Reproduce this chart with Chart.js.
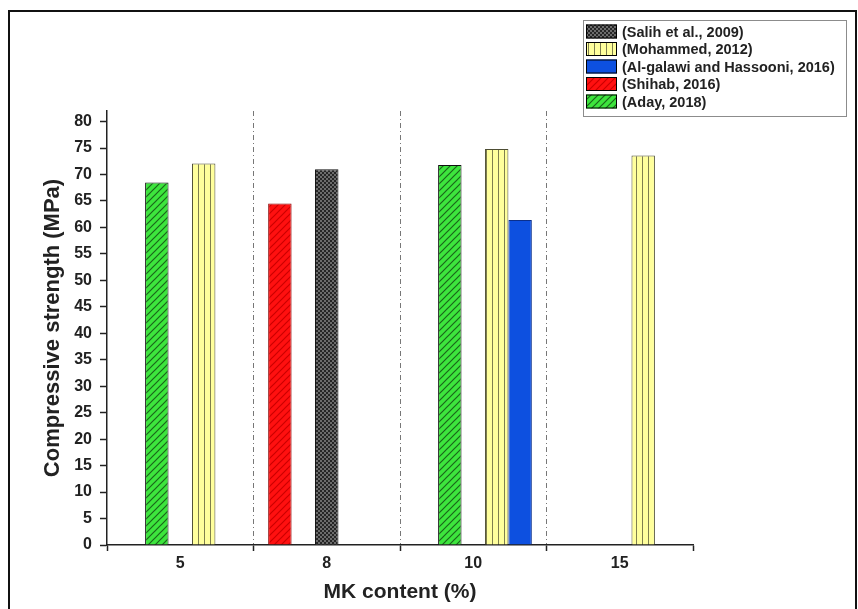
<!DOCTYPE html>
<html>
<head>
<meta charset="utf-8">
<script src="https://cdn.jsdelivr.net/npm/chart.js@4.4.1/dist/chart.umd.min.js"></script>
<style>
body { margin: 0; background: #fff; }
</style>
</head>
<body>
<canvas id="chart" width="858" height="609"></canvas>
<script>
// values (MPa), one array per study
const categories = ['5', '8', '10', '15'];
const shihab   = [null, 64.5, null, null];
const aday     = [68.5, null, 71.8, null];
const salih    = [null, 71.0, null, null];
const mohammed = [72.1, null, 74.8, 73.6];
const galawi   = [null, null, 61.4, null];
const seriesNames = ['(Shihab, 2016)', '(Aday, 2018)', '(Salih et al., 2009)', '(Mohammed, 2012)', '(Al-galawi and Hassooni, 2016)'];
const legendOrder = [2, 3, 4, 0, 1];
const yTicks = [0, 5, 10, 15, 20, 25, 30, 35, 40, 45, 50, 55, 60, 65, 70, 75, 80];

Chart.defaults.font.family = '"Liberation Sans", Arial, sans-serif';

function makePattern(w, h, draw){
    var cv = document.createElement('canvas');
    cv.width = w;
    cv.height = h;
    var g = cv.getContext('2d');
    draw(g, w, h);
    return g.createPattern(cv, 'repeat');
}

function hatch(bg, line, s){
    return makePattern(s, s, function(g){
        g.fillStyle = bg;
        g.fillRect(0, 0, s, s);
        g.strokeStyle = line;
        g.lineWidth = 1.2;
        g.beginPath();
        g.moveTo(0, s); g.lineTo(s, 0);
        g.moveTo(-1, 1); g.lineTo(1, -1);
        g.moveTo(s - 1, s + 1); g.lineTo(s + 1, s - 1);
        g.stroke();
    });
}

var greenFill = hatch('#3de53d', '#1a661a', 7);
var redFill = hatch('#ff1010', '#cc0000', 7);
var yellowFill = makePattern(6, 6, function(g, s){
    g.fillStyle = '#ffff9c';
    g.fillRect(0, 0, s, s);
    g.fillStyle = '#7e7e4e';
    g.fillRect(0, 0, 1, s);
});
var darkFill = makePattern(4, 4, function(g, s){
    g.fillStyle = '#262626';
    g.fillRect(0, 0, s, s);
    g.fillStyle = '#6c6c6c';
    g.fillRect(0, 0, 2, 2);
    g.fillRect(2, 2, 2, 2);
});
var blueFill = '#0d50e0';

var fills = [redFill, greenFill, darkFill, yellowFill, blueFill];
var borders = ['#8a0000', '#111', '#111', '#4d4d33', '#0a2f8c'];
var values = [shihab, aday, salih, mohammed, galawi];

var datasets = values.map(function(v, i){
    return {
        label: seriesNames[i],
        data: v,
        backgroundColor: fills[i],
        borderColor: borders[i],
        borderWidth: 1,
        borderSkipped: 'bottom'
    };
});

// white page with the thin frame of the original figure
const framePlugin = {
    id: 'frame',
    beforeDraw(chart){
        var ctx = chart.ctx;
        ctx.save();
        ctx.fillStyle = '#fff';
        ctx.fillRect(0, 0, chart.width, chart.height);
        ctx.strokeStyle = '#111';
        ctx.lineWidth = 2;
        ctx.beginPath();
        ctx.moveTo(9, chart.height);
        ctx.lineTo(9, 11);
        ctx.lineTo(856, 11);
        ctx.lineTo(856, chart.height);
        ctx.stroke();
        ctx.restore();
    }
};

// boxed legend at the top right, same order as the original
const boxLegend = {
    id: 'boxLegend',
    afterDraw(chart){
        var ctx = chart.ctx;
        var x0 = 583, y0 = 20, w = 263, h = 96;
        ctx.save();
        ctx.fillStyle = '#fff';
        ctx.fillRect(x0, y0, w, h);
        ctx.strokeStyle = '#8c8c8c';
        ctx.lineWidth = 1;
        ctx.strokeRect(x0 + 0.5, y0 + 0.5, w, h);
        ctx.font = 'bold 14.5px "Liberation Sans", Arial, sans-serif';
        ctx.textBaseline = 'middle';
        legendOrder.forEach(function(di, row){
            var ds = chart.data.datasets[di];
            var cy = 31.5 + row * 17.5;
            ctx.fillStyle = ds.backgroundColor;
            ctx.fillRect(586, cy - 7, 31, 14);
            ctx.strokeStyle = '#000';
            ctx.strokeRect(586.5, cy - 6.5, 30, 13);
            ctx.fillStyle = '#222';
            ctx.fillText(ds.label, 622, cy + 1);
        });
        ctx.restore();
    }
};

new Chart(document.getElementById('chart'), {
    type: 'bar',
    data: {
        labels: categories,
        datasets: datasets
    },
    plugins: [framePlugin, boxLegend],
    options: {
        responsive: false,
        animation: false,
        devicePixelRatio: 1,
        categoryPercentage: 0.8,
        barPercentage: 1.0,
        layout: { padding: { left: 36, top: 111, right: 165, bottom: 0 } },
        plugins: {
            legend: { display: false },
            tooltip: { enabled: false }
        },
        scales: {
            x: {
                grid: {
                    offset: true,
                    color: function(c){
                        var inner = c.index > 0 && c.index < categories.length;
                        return inner ? '#777' : 'rgba(0,0,0,0)';
                    },
                    lineWidth: 1,
                    tickColor: '#222',
                    tickLength: 6,
                    tickWidth: 1.5
                },
                border: { color: '#222', width: 1.5, dash: [5, 3, 1, 3] },
                ticks: { color: '#222', padding: 3, font: { size: 16, weight: 'bold' } },
                title: {
                    display: true,
                    text: 'MK content (%)',
                    color: '#222',
                    font: { size: 21, weight: 'bold' },
                    padding: { top: 4, bottom: 4 }
                },
                afterFit: function(s){ s.height = 64; }
            },
            y: {
                min: 0,
                max: 82,
                ticks: { color: '#222', padding: 8, font: { size: 16, weight: 'bold' } },
                afterBuildTicks: function(s){
                    s.ticks = yTicks.map(function(v){ return { value: v }; });
                },
                grid: { drawOnChartArea: false, tickColor: '#222', tickLength: 7, tickWidth: 1.5 },
                border: { color: '#222', width: 1.5 },
                title: {
                    display: true,
                    text: 'Compressive strength (MPa)',
                    color: '#222',
                    font: { size: 22, weight: 'bold' },
                    padding: { top: 4, bottom: 4 }
                },
                afterFit: function(s){ s.width = 71; }
            }
        }
    }
});
</script>
</body>
</html>
